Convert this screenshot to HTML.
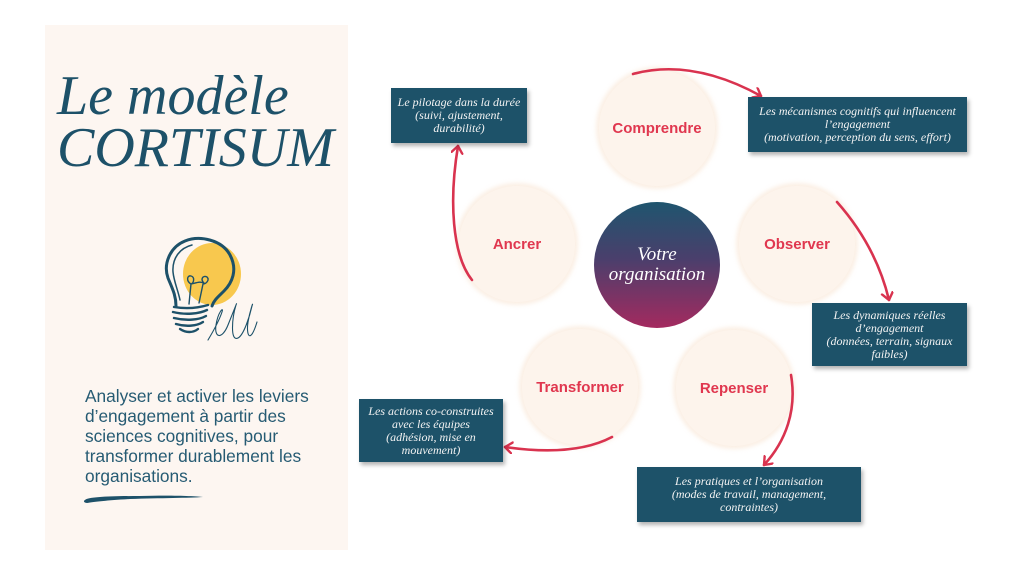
<!DOCTYPE html>
<html><head><meta charset="utf-8">
<style>
html,body{margin:0;padding:0;background:#fff;}
body{width:1024px;height:576px;position:relative;overflow:hidden;}
.panel{position:absolute;left:45px;top:25px;width:303px;height:525px;background:#fdf6f1;}
.title{position:absolute;left:57px;top:70px;font-family:"Liberation Serif",serif;font-style:italic;font-size:56px;line-height:52px;color:#1d5169;white-space:nowrap;}
.body{position:absolute;left:85px;top:386px;font-family:"Liberation Sans",sans-serif;font-size:17.3px;line-height:20px;color:#265b73;white-space:nowrap;}
.circ{position:absolute;width:116px;height:116px;border-radius:50%;background:#fdf4ec;box-shadow:0 0 4px 3px rgba(249,232,216,0.7);display:flex;align-items:center;justify-content:center;font-family:"Liberation Sans",sans-serif;font-weight:bold;font-size:15px;color:#e0374f;}
.center{position:absolute;left:594px;top:202px;width:126px;height:126px;border-radius:50%;background:linear-gradient(180deg,#1f556e 0%,#4a3f6c 45%,#a42a5f 100%);display:flex;align-items:center;justify-content:center;text-align:center;font-family:"Liberation Serif",serif;font-style:italic;font-size:19px;line-height:20px;color:#fff;}
.box{position:absolute;background:#1d5269;box-shadow:2px 3px 4px rgba(0,0,0,0.3);display:flex;align-items:center;justify-content:center;text-align:center;font-family:"Liberation Serif",serif;font-style:italic;font-size:12px;line-height:13px;color:#f3f3f3;white-space:nowrap;}
svg{position:absolute;left:0;top:0;}
</style></head><body>
<div class="panel"></div>
<div class="title">Le modèle<br>CORTISUM</div>
<div class="body">Analyser et activer les leviers<br>d’engagement à partir des<br>sciences cognitives, pour<br>transformer durablement les<br>organisations.</div>

<div class="circ" style="left:599px;top:70px;">Comprendre</div>
<div class="circ" style="left:739px;top:186px;">Observer</div>
<div class="circ" style="left:459px;top:186px;">Ancrer</div>
<div class="circ" style="left:522px;top:329px;">Transformer</div>
<div class="circ" style="left:676px;top:330px;">Repenser</div>
<div class="center"><div>Votre<br>organisation</div></div>

<svg width="1024" height="576" viewBox="0 0 1024 576">
<defs>
<marker id="ah" markerUnits="userSpaceOnUse" markerWidth="14" markerHeight="14" refX="8" refY="6" orient="auto">
<path d="M1,0.5 L8,6 L1,11.5" fill="none" stroke="#d9334f" stroke-width="2.4" stroke-linecap="round" stroke-linejoin="round"/>
</marker>
</defs>
<g fill="none" stroke="#d9334f" stroke-width="2.6" stroke-linecap="round">
<path d="M633,74 Q692,58 761,96" marker-end="url(#ah)"/>
<path d="M837,202 Q876,246 889,300" marker-end="url(#ah)"/>
<path d="M791,375 C797,410 786,441 764,465" marker-end="url(#ah)"/>
<path d="M612,437 Q574,457 505,447" marker-end="url(#ah)"/>
<path d="M472,280 C452,255 449,200 458,146" marker-end="url(#ah)"/>
</g>
<!-- bulb -->
<ellipse cx="212" cy="274" rx="29" ry="31" fill="#f8c84e"/>
<g fill="none" stroke="#1d5169" stroke-linecap="round" stroke-linejoin="round">
<path d="M176,306 C176,295 172,288 168,278 C163,264 170,247 185,241 C200,235 222,240 230,255 C238,270 232,283 224,291 C218,297 214,300 212,306" stroke-width="3"/>
<path d="M180,300 C178,290 174,282 173,272 C172,258 180,248 192,245" stroke-width="1.5"/>
<path d="M174,307 C186,309 198,308 208,305" stroke-width="2.4"/>
<path d="M173,312 C185,315 199,314 207,310" stroke-width="2.4"/>
<path d="M174,318 C186,321 199,320 206,316" stroke-width="2.4"/>
<path d="M176,324 C186,327 197,326 203,322" stroke-width="2.4"/>
<path d="M180,329 C186,333 193,333 198,329" stroke-width="2.4"/>
<path d="M189,304 L191,284 C186,281 187,275 191,276 C195,277 194,283 191,284 C196,283 200,281 204,283 C200,279 203,275 207,277 C210,280 206,284 203,284 L199,303" stroke-width="1.4"/>
<path d="M208,340 C214,330 220,318 222,312 C224,306 218,312 216,325 C214,338 222,340 228,325 C234,310 238,300 236,305 C232,318 230,342 238,338 C244,335 250,315 252,306 C254,300 250,310 248,322 C246,335 250,345 257,322" stroke-width="1.1"/>
</g>
<!-- underline brush -->
<path d="M85,500 C88,497 110,496 140,496 C170,495 195,496 203,497 C190,498 160,498 130,499 C110,500 92,502 87,503 C84,503 83,501 85,500 Z" fill="#1d5169"/>
</svg>

<div class="box" style="left:391px;top:88px;width:136px;height:55px;"><div>Le pilotage dans la durée<br>(suivi, ajustement,<br>durabilité)</div></div>
<div class="box" style="left:748px;top:97px;width:219px;height:55px;"><div>Les mécanismes cognitifs qui influencent<br>l’engagement<br>(motivation, perception du sens, effort)</div></div>
<div class="box" style="left:812px;top:303px;width:155px;height:63px;"><div>Les dynamiques réelles<br>d’engagement<br>(données, terrain, signaux<br>faibles)</div></div>
<div class="box" style="left:359px;top:399px;width:144px;height:63px;"><div>Les actions co-construites<br>avec les équipes<br>(adhésion, mise en<br>mouvement)</div></div>
<div class="box" style="left:637px;top:467px;width:224px;height:55px;"><div>Les pratiques et l’organisation<br>(modes de travail, management,<br>contraintes)</div></div>
</body></html>
